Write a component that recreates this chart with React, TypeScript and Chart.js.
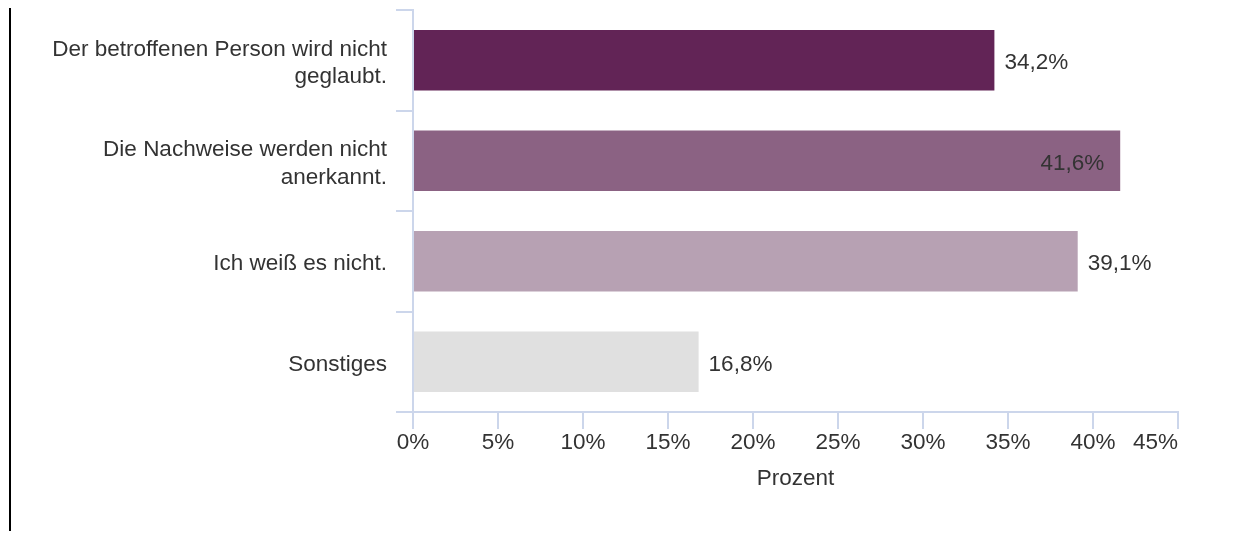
import React, { useEffect, useRef } from "react";
import { Chart, registerables } from "chart.js";

Chart.register(...registerables);

const categories: (string | string[])[] = [
  ["Der betroffenen Person wird nicht", "geglaubt."],
  ["Die Nachweise werden nicht", "anerkannt."],
  "Ich weiß es nicht.",
  "Sonstiges",
];
const values = [34.2, 41.6, 39.1, 16.8];
const barColors = ["#622456", "#8b6283", "#b7a1b3", "#e0e0e0"];
const xTicks = [0, 5, 10, 15, 20, 25, 30, 35, 40, 45];
const axisTitle = "Prozent";

const FONT = "'Liberation Sans', Arial, sans-serif";
const TEXT = "#333333";
const AXIS = "#ccd6eb";
const FS = 22.5;

const fmt = (v: number) => v.toFixed(1).replace(".", ",") + "%";

const overlayPlugin = {
  id: "overlay",
  afterDatasetsDraw(chart: any) {
    const ctx = chart.ctx;
    const meta = chart.getDatasetMeta(0);
    const area = chart.chartArea;
    ctx.save();
    ctx.font = `${FS}px ${FONT}`;
    ctx.fillStyle = TEXT;
    ctx.textBaseline = "middle";
    meta.data.forEach((bar: any, i: number) => {
      const txt = fmt(values[i]);
      const w = ctx.measureText(txt).width;
      let x = bar.x + 10;
      if (x + w > area.right) {
        ctx.textAlign = "right";
        x = bar.x - 16;
      } else {
        ctx.textAlign = "left";
      }
      ctx.fillText(txt, x, bar.y + 3);
    });
    // last x tick label, right aligned to its tick
    const xs = chart.scales.x;
    const last = xTicks[xTicks.length - 1];
    ctx.textAlign = "right";
    ctx.textBaseline = "top";
    ctx.fillText(last + "%", xs.getPixelForValue(last), xs.top + 20);
    ctx.restore();
  },
};

export default function App() {
  const ref = useRef<HTMLCanvasElement>(null);
  useEffect(() => {
    if (!ref.current) return;
    const chart = new Chart(ref.current, {
      type: "bar",
      data: {
        labels: categories,
        datasets: [
          {
            data: values,
            backgroundColor: barColors,
            borderWidth: 0,
            categoryPercentage: 1,
            barPercentage: 0.6,
          },
        ],
      },
      plugins: [overlayPlugin],
      options: {
        indexAxis: "y",
        responsive: false,
        animation: false,
        layout: { padding: { top: 10, right: 69, bottom: 43, left: 0 } },
        plugins: { legend: { display: false }, tooltip: { enabled: false } },
        scales: {
          x: {
            min: 0,
            max: 45,
            afterBuildTicks: (s: any) => {
              s.ticks = xTicks.map((v) => ({ value: v }));
            },
            afterFit: (s: any) => {
              s.height = 80;
              s.paddingLeft = 0;
              s.paddingRight = 0;
            },
            ticks: {
              padding: 0,
              maxRotation: 0,
              autoSkip: false,
              color: TEXT,
              font: { family: FONT, size: FS },
              callback: (v: any) => (v === xTicks[xTicks.length - 1] ? "" : v + "%"),
            },
            grid: {
              drawOnChartArea: false,
              drawTicks: true,
              tickLength: 17,
              color: AXIS,
              lineWidth: 2,
            },
            border: { display: true, color: AXIS, width: 2 },
            title: {
              display: true,
              text: axisTitle,
              color: TEXT,
              font: { family: FONT, size: FS },
              padding: { top: 0, bottom: 0 },
            },
          },
          y: {
            afterFit: (s: any) => {
              s.width = 413;
              s.paddingTop = 0;
              s.paddingBottom = 0;
            },
            ticks: {
              padding: 9,
              labelOffset: 3,
              color: TEXT,
              font: { family: FONT, size: FS, lineHeight: 1.22 },
            },
            grid: {
              offset: true,
              drawOnChartArea: false,
              drawTicks: true,
              tickLength: 17,
              color: AXIS,
              lineWidth: 2,
            },
            border: { display: true, color: AXIS, width: 2 },
          },
        },
      },
    } as any);
    return () => chart.destroy();
  }, []);
  return (
    <div style={{ position: "fixed", left: 0, top: 0, width: 1247, height: 535, background: "#fff" }}>
      <div style={{ position: "absolute", left: 9, top: 8, width: 2, height: 523, background: "#000" }} />
      <canvas ref={ref} width={1247} height={535} style={{ position: "absolute", left: 0, top: 0, width: 1247, height: 535 }} />
    </div>
  );
}
